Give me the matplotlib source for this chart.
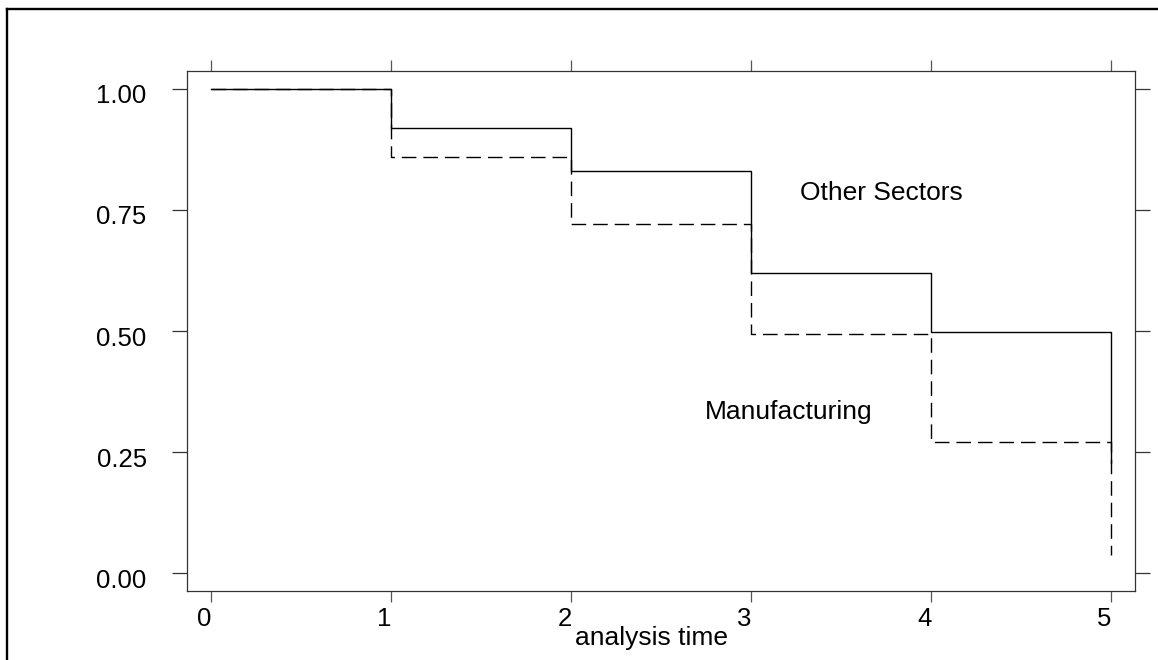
import matplotlib
matplotlib.use("Agg")
import matplotlib.pyplot as plt
import matplotlib.transforms as mtrans
from matplotlib.lines import Line2D

plt.rcParams['font.family'] = ['Liberation Sans', 'DejaVu Sans']

# Data
times = [0, 1, 2, 3, 4, 5]
other_sectors = [1.00, 0.92, 0.83, 0.62, 0.497, 0.227]
manufacturing = [1.00, 0.86, 0.721, 0.493, 0.270, 0.037]
x_ticks = [0, 1, 2, 3, 4, 5]
y_ticks = [0.00, 0.25, 0.50, 0.75, 1.00]
y_ticklabels = ["0.00", "0.25", "0.50", "0.75", "1.00"]

W, H = 1158, 660
fig = plt.figure(figsize=(W / 100, H / 100), dpi=100)
fig.patch.set_facecolor('white')

ax = fig.add_axes([187 / W, 1 - 591 / H, 948 / W, 520 / H])

ax.plot(times, manufacturing, drawstyle='steps-post', color='black',
        lw=1.0, linestyle=(0, (10.5, 5)))
ax.plot(times, other_sectors, drawstyle='steps-post', color='black', lw=1.0)

ax.set_xlim(-0.132, 5.135)
ax.set_ylim(-0.037, 1.037)

ax.set_xticks(x_ticks)
ax.set_xticklabels([str(t) for t in x_ticks])
ax.set_yticks(y_ticks)
ax.set_yticklabels(y_ticklabels)

for s in ax.spines.values():
    s.set_color('#333333')
    s.set_linewidth(0.9)

ax.tick_params(axis='x', which='both', direction='out', length=8, width=0.9,
               color='#555555', top=True, bottom=True, labelsize=18.5, pad=3.5)
ax.tick_params(axis='y', which='both', direction='out', length=10.5, width=0.9,
               color='#333333', left=True, right=True, labelsize=18.5, pad=18.5)

for lab in ax.get_xticklabels():
    lab.set_ha('right')
    lab.set_transform(lab.get_transform() + mtrans.ScaledTranslation(0.01, 0, fig.dpi_scale_trans))
for lab in ax.get_yticklabels():
    lab.set_transform(lab.get_transform() + mtrans.ScaledTranslation(0, -0.05, fig.dpi_scale_trans))

ax.text(3.728, 0.786, "Other Sectors", fontsize=19, ha='center', va='center')
ax.text(3.209, 0.333, "Manufacturing", fontsize=19, ha='center', va='center')

fig.text(651.7 / W, 1 - 645 / H, "analysis time", fontsize=19, ha='center', va='baseline')

# outer frame (clipped at right and bottom)
fig.add_artist(Line2D([6.8 / W, 6.8 / W], [1 - 8.5 / H, -0.1], transform=fig.transFigure,
                      color='black', lw=1.7, solid_capstyle='projecting'))
fig.add_artist(Line2D([6.8 / W, 1.1], [1 - 8.5 / H, 1 - 8.5 / H], transform=fig.transFigure,
                      color='black', lw=1.7, solid_capstyle='projecting'))

fig.savefig("out.png", dpi=100, facecolor='white')
